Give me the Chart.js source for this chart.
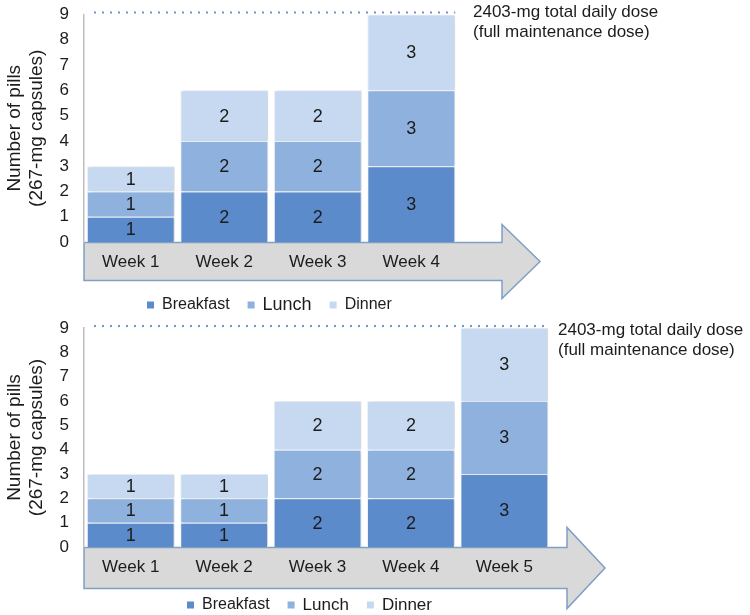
<!DOCTYPE html>
<html>
<head>
<meta charset="utf-8">
<script src="https://cdn.jsdelivr.net/npm/chart.js@4.4.1/dist/chart.umd.min.js"></script>
<style>
  body { margin: 0; background: #fff; }
  canvas { position: absolute; left: 0; }
  #chartTop { top: 0; }
  #chartBottom { top: 308px; }
</style>
</head>
<body>
<canvas id="chartTop" width="750" height="316"></canvas>
<canvas id="chartBottom" width="750" height="307"></canvas>
<script>
// data
const mealNames = ['Breakfast', 'Lunch', 'Dinner'];
const mealColors = ['#5b8bcb', '#8eb1dd', '#c7d9f0'];

const weeksTop = ['Week 1', 'Week 2', 'Week 3', 'Week 4'];
const breakfastTop = [1, 2, 2, 3];
const lunchTop = [1, 2, 2, 3];
const dinnerTop = [1, 2, 2, 3];

const weeksBottom = ['Week 1', 'Week 2', 'Week 3', 'Week 4', 'Week 5'];
const breakfastBottom = [1, 1, 2, 2, 3];
const lunchBottom = [1, 1, 2, 2, 3];
const dinnerBottom = [1, 1, 2, 2, 3];

const yMax = 9;
const fullDose = 9;
const doseNote = ['2403-mg total daily dose', '(full maintenance dose)'];
const yTitle = ['Number of pills', '(267-mg capsules)'];

const FONT = "'Liberation Sans', Arial, sans-serif";
const TEXT = '#1c1c1c';

// draws the grey arrow, the dose line, segment labels, the note and the legend
const pillDecor = {
    id: 'pillDecor',
    beforeDraw(chart, args, opts) {
        const ctx = chart.ctx;
        const a = chart.chartArea;
        const top = a.bottom + 0.5;
        const bot = top + opts.bodyH;
        const mid = (top + bot) / 2;
        const headX = a.right + opts.headOffset;
        const tipX = a.right + opts.tipOffset;
        ctx.save();
        ctx.beginPath();
        ctx.moveTo(a.left, top);
        ctx.lineTo(headX, top);
        ctx.lineTo(headX, top - opts.headOut);
        ctx.lineTo(tipX, mid);
        ctx.lineTo(headX, bot + opts.headOut);
        ctx.lineTo(headX, bot);
        ctx.lineTo(a.left, bot);
        ctx.closePath();
        ctx.fillStyle = '#d9d9d9';
        ctx.fill();
        ctx.lineWidth = 1.5;
        ctx.strokeStyle = '#7f9ec8';
        ctx.stroke();
        ctx.restore();
    },
    beforeDatasetsDraw(chart) {
        // soft shadow that greys the gaps between columns
        const ctx = chart.ctx;
        ctx.save();
        ctx.shadowColor = 'rgba(0, 0, 0, 0.13)';
        ctx.shadowOffsetX = 3;
        ctx.shadowBlur = 3;
    },
    afterDatasetsDraw(chart, args, opts) {
        const ctx = chart.ctx;
        ctx.restore();
        const a = chart.chartArea;
        const y = chart.scales.y;

        // value in the middle of each segment
        ctx.save();
        ctx.font = '18px ' + FONT;
        ctx.fillStyle = TEXT;
        ctx.textAlign = 'center';
        ctx.textBaseline = 'middle';
        chart.data.datasets.forEach((ds, i) => {
            chart.getDatasetMeta(i).data.forEach((bar, j) => {
                ctx.fillText(String(ds.data[j]), bar.x, (bar.y + bar.base) / 2 + 1);
            });
        });

        // dotted full-dose line
        const metaLast = chart.getDatasetMeta(0).data;
        const lastBar = metaLast[metaLast.length - 1];
        const yy = y.getPixelForValue(fullDose) - 2;
        ctx.beginPath();
        ctx.setLineDash([2, 6]);
        ctx.lineWidth = 2;
        ctx.strokeStyle = '#6f96c9';
        ctx.moveTo(a.left + 10, yy);
        ctx.lineTo(lastBar.x + lastBar.width / 2, yy);
        ctx.stroke();
        ctx.setLineDash([]);

        // note next to the line
        ctx.font = '17px ' + FONT;
        ctx.textAlign = 'left';
        ctx.fillText(doseNote[0], a.right + opts.noteX, yy + opts.noteDy);
        ctx.fillText(doseNote[1], a.right + opts.noteX, yy + opts.noteDy + 20);
        ctx.restore();
    },
    afterDraw(chart, args, opts) {
        const ctx = chart.ctx;
        ctx.save();
        ctx.textBaseline = 'middle';
        ctx.textAlign = 'left';
        let x = opts.legendX;
        const ly = opts.legendY;
        chart.data.datasets.forEach((ds, i) => {
            ctx.fillStyle = ds.backgroundColor;
            ctx.fillRect(x, ly - 3.5, 7, 7);
            x += 15;
            ctx.font = opts.legendSizes[i] + 'px ' + FONT;
            ctx.fillStyle = TEXT;
            ctx.fillText(ds.label, x, ly);
            x += ctx.measureText(ds.label).width + 18;
        });
        ctx.restore();
    }
};

function makeChart(id, weeks, series, cfg) {
    const ctx = document.getElementById(id).getContext('2d');
    return new Chart(ctx, {
        type: 'bar',
        data: {
            labels: weeks,
            datasets: series.map((vals, i) => ({
                label: mealNames[i],
                data: vals,
                backgroundColor: mealColors[i],
                borderColor: '#eef3fa',
                borderWidth: 1,
                categoryPercentage: 1,
                barPercentage: 0.94
            }))
        },
        options: {
            responsive: false,
            animation: false,
            layout: {
                padding: { top: cfg.padTop, right: cfg.padRight, left: 0, bottom: 0 }
            },
            plugins: {
                legend: { display: false },
                tooltip: { enabled: false },
                pillDecor: cfg.decor
            },
            scales: {
                x: {
                    stacked: true,
                    grid: { display: false, drawTicks: false },
                    border: { display: false },
                    ticks: { color: TEXT, font: { family: FONT, size: 17 }, padding: 10 },
                    afterFit: (s) => { s.height = cfg.xHeight; }
                },
                y: {
                    stacked: true,
                    min: 0,
                    max: yMax,
                    grid: { display: false, drawTicks: false },
                    border: { display: true, color: '#bdbdbd', width: 1.5 },
                    ticks: { stepSize: 1, color: TEXT, font: { family: FONT, size: 17 }, padding: 15 },
                    title: {
                        display: true,
                        text: yTitle,
                        color: TEXT,
                        font: { family: FONT, size: 19 },
                        padding: { top: 3, bottom: 0 }
                    },
                    afterFit: (s) => {
                        s.width = 84;
                        s.paddingTop = 0;
                        s.paddingBottom = 0;
                    }
                }
            }
        },
        plugins: [pillDecor]
    });
}

makeChart('chartTop', weeksTop, [breakfastTop, lunchTop, dinnerTop], {
    padTop: 14.5, padRight: 292, xHeight: 74,
    decor: { bodyH: 38, headOut: 18, headOffset: 44, tipOffset: 82, noteX: 15, noteDy: 0,
             legendX: 147, legendY: 305, legendSizes: [16, 18, 16] }
});

makeChart('chartBottom', weeksBottom, [breakfastBottom, lunchBottom, dinnerBottom], {
    padTop: 20, padRight: 199, xHeight: 68,
    decor: { bodyH: 41, headOut: 20, headOffset: 16, tipOffset: 54, noteX: 7, noteDy: 4,
             legendX: 187, legendY: 297, legendSizes: [16, 17, 17] }
});
</script>
</body>
</html>
